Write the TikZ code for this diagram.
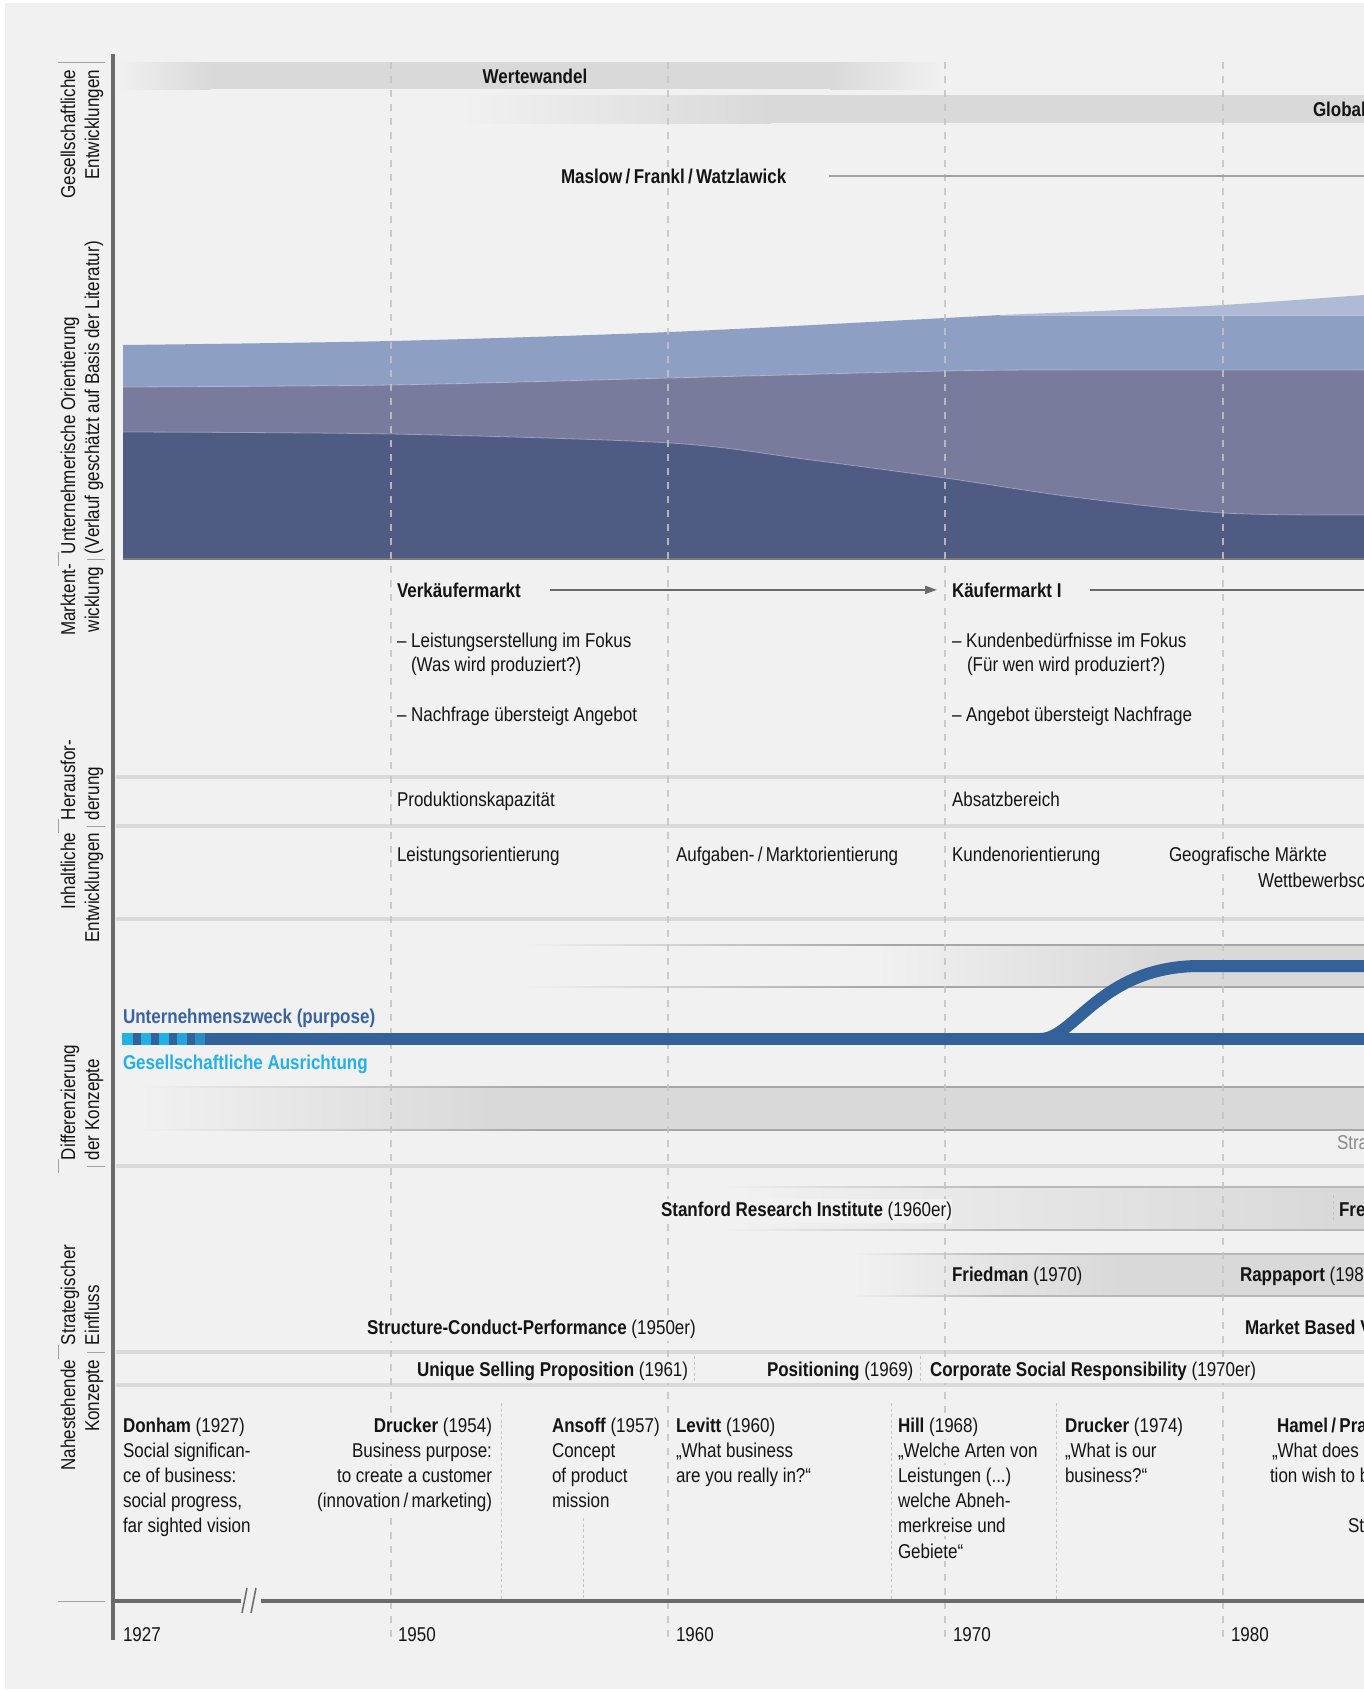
\documentclass[tikz,border=0pt]{standalone}
\usepackage{fontspec}
\setmainfont{Liberation Sans}[FakeStretch=0.85]
\usetikzlibrary{arrows.meta}
\definecolor{bg}{HTML}{F1F1F1}
\definecolor{ink}{HTML}{141414}
\definecolor{bandc}{HTML}{D9D9D9}
\definecolor{bordc}{HTML}{A6A6A6}
\definecolor{bordl}{HTML}{B8B8B8}
\definecolor{sepc}{HTML}{DADADA}
\definecolor{gridc}{HTML}{C4C4C4}
\definecolor{axisc}{HTML}{6A6A6A}
\definecolor{linec}{HTML}{A0A0A0}
\definecolor{chA}{HTML}{AFBAD7}
\definecolor{chB}{HTML}{8E9FC4}
\definecolor{chC}{HTML}{787B9C}
\definecolor{chD}{HTML}{4F5B83}
\definecolor{purp}{HTML}{336199}
\definecolor{purptxt}{HTML}{3A64A0}
\definecolor{socc}{HTML}{22B1E7}
\definecolor{graytxt}{HTML}{8A8A8A}
\begin{document}
\begin{tikzpicture}[x=1pt,y=-1pt,
  font=\fontsize{20}{25.2}\selectfont,
  every node/.style={inner sep=0pt, outer sep=0pt, text=ink},
  tl/.style={anchor=base west},
  tr/.style={anchor=base east},
  tc/.style={anchor=base},
  bgf/.style={fill=bg, inner ysep=3pt},
  lbs/.style={rotate=90, anchor=base west},
  lbe/.style={rotate=90, anchor=base east},
  gridline/.style={draw=gridc, line width=1.4pt, dash pattern=on 7pt off 7pt},
  sepline/.style={draw=sepc, line width=3.5pt},
  dotline/.style={draw=gridc, line width=1pt, dash pattern=on 3pt off 2.5pt},
  axisline/.style={draw=axisc, line width=3.5pt},
  thinline/.style={draw=linec, line width=1.8pt},
  arrline/.style={draw=axisc, line width=1.8pt},
  lblsep/.style={draw=linec, line width=1pt},
  purpline/.style={draw=purp, line width=12pt},
  chsep/.style={draw=white, draw opacity=0.35, line width=0.8pt},
]
\useasboundingbox (0,0) rectangle (1364,1692);
\fill[white] (0,0) rectangle (1364,1692);
\fill[bg] (5,3) rectangle (1364,1689);

% ---------- Section 1 bands
\fill[left color=bg, right color=bandc] (116,62) rectangle (210,89);
\fill[bandc] (209,62) rectangle (831,89);
\fill[left color=bandc, right color=bg] (830,62) rectangle (942,89);
\fill[left color=bg, right color=bandc] (460,95) rectangle (771,123);
\fill[bandc] (770,95) rectangle (1364,123);

% ---------- Differenzierung bands
\fill[left color=bg, right color=bandc] (876,945) rectangle (1161,987);
\fill[bandc] (1160,945) rectangle (1364,987);
\fill[left color=bg, right color=bordc] (526,944.2) rectangle (881,945.8);
\fill[bordc] (880,944.2) rectangle (1364,945.8);
\fill[left color=bg, right color=bordc] (526,986.2) rectangle (881,987.8);
\fill[bordc] (880,986.2) rectangle (1364,987.8);

\fill[left color=bg, right color=bandc] (138,1087) rectangle (491,1130);
\fill[bandc] (490,1087) rectangle (1364,1130);
\fill[left color=bg, right color=bordc] (138,1086.2) rectangle (541,1087.8);
\fill[bordc] (540,1086.2) rectangle (1364,1087.8);
\fill[left color=bg, right color=bordc] (138,1129.2) rectangle (541,1130.8);
\fill[bordc] (540,1129.2) rectangle (1364,1130.8);

% ---------- Strategischer Einfluss bands
\fill[left color=bg, right color=bandc] (734,1187) rectangle (1334,1230);
\fill[bandc] (1333,1187) rectangle (1364,1230);
\fill[left color=bg, right color=bordl] (724,1186.2) rectangle (1001,1187.8);
\fill[bordl] (1000,1186.2) rectangle (1364,1187.8);
\fill[left color=bg, right color=bordl] (724,1229.2) rectangle (1001,1230.8);
\fill[bordl] (1000,1229.2) rectangle (1364,1230.8);

\fill[left color=bg, right color=bandc] (852,1254) rectangle (1118,1296);
\fill[bandc] (1117,1254) rectangle (1364,1296);
\fill[left color=bg, right color=bordl] (852,1253.2) rectangle (1001,1254.8);
\fill[bordl] (1000,1253.2) rectangle (1364,1254.8);
\fill[left color=bg, right color=bordl] (852,1295.2) rectangle (1001,1296.8);
\fill[bordl] (1000,1295.2) rectangle (1364,1296.8);

% ---------- Area chart
\fill[chA] plot[smooth] coordinates {(1000,315) (1100,311) (1223,305) (1364,295)} -- (1364,315) -- cycle;
\fill[chB] plot[smooth] coordinates {(123,345) (391,341) (670,332) (945,318) (1000,315)} -- (1364,315) -- (1364,559) -- (123,559) -- cycle;
\fill[chC] plot[smooth] coordinates {(123,387) (391,385) (670,378) (945,371) (1073,370) (1364,370)} -- (1364,559) -- (123,559) -- cycle;
\fill[chD] plot[smooth] coordinates {(123,432) (391,434) (670,443) (811,460) (945,478) (1073,497) (1223,513) (1364,515)} -- (1364,559) -- (123,559) -- cycle;
\draw[chsep] (1000,315) -- (1364,315);
\draw[chsep] plot[smooth] coordinates {(123,387) (391,385) (670,378) (945,371) (1073,370) (1364,370)};
\draw[chsep] plot[smooth] coordinates {(123,432) (391,434) (670,443) (811,460) (945,478) (1073,497) (1223,513) (1364,515)};
\draw[draw=axisc!90, line width=2pt] (123,559) -- (1364,559);

% ---------- separators
\foreach \yy in {777,826,919,1166,1352,1385}
  \draw[sepline] (116,\yy) -- (1364,\yy);

% ---------- grid lines
\foreach \xx in {391,668,945,1223}
  \draw[gridline, draw opacity=0.85] (\xx,62) -- (\xx,1640);

% small dotted separators
\draw[dotline] (501,1403) -- (501,1600);
\draw[dotline] (583,1518) -- (583,1600);
\draw[dotline] (891,1403) -- (891,1600);
\draw[dotline] (1056,1403) -- (1056,1600);
\draw[dotline] (694,1356) -- (694,1382);
\draw[dotline] (920,1356) -- (920,1382);
\draw[dotline] (1333,1195) -- (1333,1222);

% ---------- purpose lines
\draw[purpline] (122,1039) -- (1364,1039);
\draw[purpline] (1040,1039) .. controls (1075,1039) and (1100,966) .. (1200,966) -- (1364,966);
\fill[socc] (122,1033) rectangle (132.5,1045);
\fill[socc] (141,1033) rectangle (151,1045);
\fill[socc] (159,1033) rectangle (169,1045);
\fill[socc!85!purp] (177,1033) rectangle (187,1045);
\fill[socc!55!purp] (195,1033) rectangle (205,1045);

% ---------- axes
\draw[axisline] (113,54) -- (113,1640);
\draw[axisline] (113,1601) -- (241,1601);
\draw[axisline] (261,1601) -- (1364,1601);
\draw[draw=axisc, line width=1.5pt] (242,1613) -- (247,1588);
\draw[draw=axisc, line width=1.5pt] (251,1613) -- (256,1588);

% ---------- label column delimiters
\draw[lblsep] (58,62) -- (105,62);
\draw[lblsep] (58,1601) -- (105,1601);
\foreach \yy in {559,826,1166,1352} {
  \draw[lblsep] (87,\yy) -- (105,\yy);
  \draw[lblsep] (58.5,\yy-7) -- (58.5,\yy+7);
}

% ---------- left labels
\node[lbe] (l1a) at (75,70) {Gesellschaftliche};
\node[lbe] (l1b) at (99,70) {Entwicklungen};
\node[lbs] (l2a) at (75,554) {Unternehmerische Orientierung};
\node[lbs] (l2b) at (99,554) {(Verlauf geschätzt auf Basis der Literatur)};
\node[lbe] (l3a) at (75,564) {Marktent-};
\node[lbe] (l3b) at (99,567) {wicklung};
\node[lbs] (l4a) at (75,820) {Herausfor-};
\node[lbs] (l4b) at (99,820) {derung};
\node[lbe] (l5a) at (75,833) {Inhaltliche};
\node[lbe] (l5b) at (99,833) {Entwicklungen};
\node[lbs] (l6a) at (75,1160) {Differenzierung};
\node[lbs] (l6b) at (99,1160) {der Konzepte};
\node[lbs] (l7a) at (75,1345) {Strategischer};
\node[lbs] (l7b) at (99,1345) {Einfluss};
\node[lbe] (l8a) at (75,1360) {Nahestehende};
\node[lbe] (l8b) at (99,1360) {Konzepte};

% ---------- Section 1 texts
\node[tc] (wert) at (535,83) {\bfseries Wertewandel};
\node[tl] (glob) at (1313,116) {\bfseries Global};
\node[tl] (maslow) at (561,183) {\bfseries Maslow\,/\,Frankl\,/\,Watzlawick};
\coordinate (mend) at (1364,175);
\draw[thinline] ([xshift=43pt]maslow.east) -- (maslow.east -| mend);

% ---------- Marktentwicklung
\node[tl] (verk) at (397,597) {\bfseries Verkäufermarkt};
\node[tl] (kauf) at (952,597) {\bfseries Käufermarkt I};
\draw[arrline, -{Triangle[length=12pt,width=8pt]}] ([xshift=29pt]verk.east) -- ([xshift=-15pt]kauf.west);
\coordinate (kend) at (1364,590);
\draw[arrline] ([xshift=28pt]kauf.east) -- (kauf.east -| kend);
\node[tl] (v1) at (397,647) {– Leistungserstellung im Fokus};
\node[tl] (v2) at (411,671) {(Was wird produziert?)};
\node[tl] (v3) at (397,721) {– Nachfrage übersteigt Angebot};
\node[tl] (k1) at (952,647) {– Kundenbedürfnisse im Fokus};
\node[tl] (k2) at (967,671) {(Für wen wird produziert?)};
\node[tl] (k3) at (952,721) {– Angebot übersteigt Nachfrage};

% ---------- Herausforderung / Inhaltliche
\node[tl] (h1) at (397,806) {Produktionskapazität};
\node[tl] (h2) at (952,806) {Absatzbereich};
\node[tl] (i1) at (397,861) {Leistungsorientierung};
\node[tl] (i2) at (676,861) {Aufgaben-\,/\,Marktorientierung};
\node[tl] (i3) at (952,861) {Kundenorientierung};
\node[tl,bgf] (i4) at (1169,861) {Geografische Märkte};
\node[tl] (i5) at (1258,887) {Wettbewerbsc};

% ---------- Differenzierung
\node[tl] (purp) at (123,1023) {\bfseries\color{purptxt}Unternehmenszweck (purpose)};
\node[tl] (soc) at (123,1069) {\bfseries\color{socc}Gesellschaftliche Ausrichtung};
\node[tl] (stra) at (1337,1149) {\color{graytxt}Stra};

% ---------- Strategischer Einfluss
\node[tl,bgf] (sri) at (661,1216) {\bfseries Stanford Research Institute \mdseries(1960er)};
\node[tl] (fre) at (1339,1216) {\bfseries Fre};
\node[tl] (fried) at (952,1281) {\bfseries Friedman \mdseries(1970)};
\node[tl] (rapp) at (1240,1281) {\bfseries Rappaport \mdseries(198};
\node[tl,bgf] (scp) at (367,1334) {\bfseries Structure-Conduct-Performance \mdseries(1950er)};
\node[tl] (mbv) at (1245,1334) {\bfseries Market Based V};

% ---------- Nahestehende Konzepte
\node[tl,bgf] (usp) at (417,1376) {\bfseries Unique Selling Proposition \mdseries(1961)};
\node[tl] (pos) at (767,1376) {\bfseries Positioning \mdseries(1969)};
\node[tl,bgf] (csr) at (930,1376) {\bfseries Corporate Social Responsibility \mdseries(1970er)};

\node[tl] (don1) at (123,1432) {\bfseries Donham \mdseries(1927)};
\node[tl] (don2) at (123,1457.2) {Social significan-};
\node[tl] (don3) at (123,1482.4) {ce of business:};
\node[tl] (don4) at (123,1507.6) {social progress,};
\node[tl] (don5) at (123,1532.8) {far sighted vision};

\node[tr,bgf] (dr1) at (492,1432) {\bfseries Drucker \mdseries(1954)};
\node[tr,bgf] (dr2) at (492,1457.2) {Business purpose:};
\node[tr,bgf] (dr3) at (492,1482.4) {to create a customer};
\node[tr,bgf] (dr4) at (492,1507.6) {(innovation\,/\,marketing)};

\node[tl] (an1) at (552,1432) {\bfseries Ansoff \mdseries(1957)};
\node[tl] (an2) at (552,1457.2) {Concept};
\node[tl] (an3) at (552,1482.4) {of product};
\node[tl] (an4) at (552,1507.6) {mission};

\node[tl] (le1) at (676,1432) {\bfseries Levitt \mdseries(1960)};
\node[tl] (le2) at (676,1457.2) {„What business};
\node[tl] (le3) at (676,1482.4) {are you really in?“};

\node[tl,bgf] (hi1) at (898,1432) {\bfseries Hill \mdseries(1968)};
\node[tl,bgf] (hi2) at (898,1457.2) {„Welche Arten von};
\node[tl,bgf] (hi3) at (898,1482.4) {Leistungen (...)};
\node[tl,bgf] (hi4) at (898,1507.6) {welche Abneh-};
\node[tl,bgf] (hi5) at (898,1532.8) {merkreise und};
\node[tl,bgf] (hi6) at (898,1558) {Gebiete“};

\node[tl] (dd1) at (1065,1432) {\bfseries Drucker \mdseries(1974)};
\node[tl] (dd2) at (1065,1457.2) {„What is our};
\node[tl] (dd3) at (1065,1482.4) {business?“};

\node[tl] (ha1) at (1277,1432) {\bfseries Hamel\,/\,Pra};
\node[tl] (ha2) at (1272,1457.2) {„What does};
\node[tl] (ha3) at (1270,1482.4) {tion wish to b};
\node[tl] (ha4) at (1348,1532.8) {St};

% ---------- years
\node[tl] (y1927) at (123,1641) {1927};
\node[tl] (y1950) at (398,1641) {1950};
\node[tl] (y1960) at (676,1641) {1960};
\node[tl] (y1970) at (953,1641) {1970};
\node[tl] (y1980) at (1231,1641) {1980};
\end{tikzpicture}
\end{document}
